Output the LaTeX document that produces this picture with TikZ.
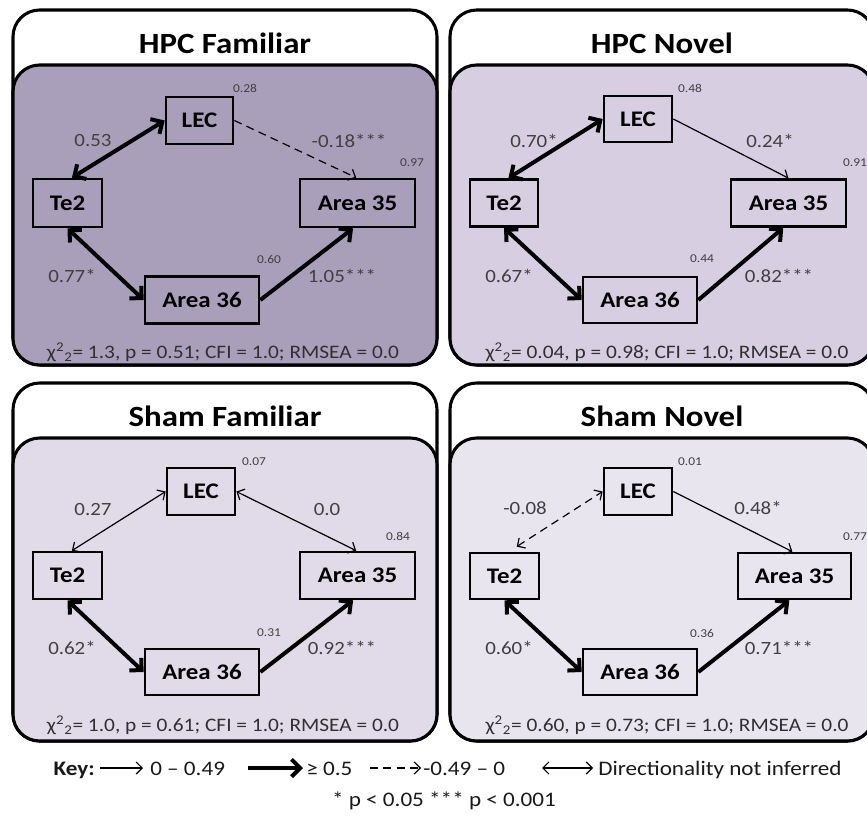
\documentclass[tikz,border=0pt]{standalone}
\usepackage{fontspec}
\setmainfont{Carlito}[FakeStretch=1.12]
\usetikzlibrary{arrows.meta}
\newdimen\upx \upx=0.75pt
\definecolor{famHPC}{RGB}{169,159,186}
\definecolor{novHPC}{RGB}{216,206,226}
\definecolor{famSham}{RGB}{225,219,233}
\definecolor{novSham}{RGB}{233,229,239}
\definecolor{numgray}{RGB}{64,64,64}
\definecolor{statgray}{RGB}{48,48,48}
\tikzset{
  panelline/.style={draw=black, line width=2.3pt, rounded corners=20pt},
  region/.style={draw=black, line width=2pt, inner sep=0pt, font=\fontsize{16.7}{18}\selectfont\bfseries},
  ttl/.style={font=\fontsize{22}{24}\selectfont\bfseries, inner sep=0pt},
  coef/.style={text=numgray, font=\fontsize{14}{16}\selectfont, inner sep=0pt},
  rsq/.style={text=numgray, font=\fontsize{9}{10}\selectfont, inner sep=0pt},
  fitline/.style={text=statgray, font=\fontsize{14.3}{16}\selectfont, inner sep=0pt},
  keytxt/.style={text=black!90, font=\fontsize{15.5}{17}\selectfont, inner sep=0pt},
  weak/.style={line width=0.9pt},
  strong/.style={line width=3pt},
  neg/.style={dash pattern=on 6pt off 4pt},
  wtip/.tip={Straight Barb[length=4.5pt,width=9pt]},
  stip/.tip={Straight Barb[length=6.5pt,width=13pt]},
}
\newcommand{\chisq}{χ\textsuperscript{2}\textsubscript{2}}
\begin{document}
\begin{tikzpicture}[x=0.75pt,y=-0.75pt]
\useasboundingbox (0,0) rectangle (867,816);
\clip (0,0) rectangle (867,816);

% ---------- panel frames ----------
\draw[panelline, fill=white] (13,10) rectangle (437,365);
\draw[panelline, fill=famHPC] (13,65) rectangle (437,365);
\draw[panelline, fill=white] (450,10) rectangle (874,365);
\draw[panelline, fill=novHPC] (450,65) rectangle (874,365);
\draw[panelline, fill=white] (13,383) rectangle (437,741);
\draw[panelline, fill=famSham] (13,438) rectangle (437,741);
\draw[panelline, fill=white] (450,383) rectangle (874,741);
\draw[panelline, fill=novSham] (450,438) rectangle (874,741);

% ---------- HPC Familiar ----------
\node[ttl] (tlT) at (225,43) {HPC Familiar};
\node[region, minimum width=67\upx, minimum height=47\upx] (tlLEC) at (199.5,120.5) {LEC};
\node[region, minimum width=69\upx, minimum height=48\upx] (tlTe2) at (67.5,203) {Te2};
\node[region, minimum width=115\upx, minimum height=48\upx] (tlA35) at (357.5,203) {Area 35};
\node[region, minimum width=114\upx, minimum height=47\upx] (tlA36) at (202,300) {Area 36};
\draw[strong, {stip}-{stip}] (tlTe2.80) -- (tlLEC.west);
\draw[weak, neg, -{wtip}] (tlLEC.east) -- (tlA35.93);
\draw[strong, {stip}-{stip}] (tlTe2.south) -- (tlA36.west);
\draw[strong, -{stip}] (tlA36.east) -- (tlA35.260);
\node[rsq] (tlr1) at (245,88) {0.28};
\node[coef] (tlc1) at (93,141) {0.53};
\node[coef] (tlc2) at (349,141) {-0.18***};
\node[rsq] (tlr2) at (412,163) {0.97};
\node[coef] (tlc3) at (72,276) {0.77*};
\node[rsq] (tlr3) at (269,259) {0.60};
\node[coef] (tlc4) at (342,276) {1.05***};
\node[fitline] (tlF) at (223,352) {\chisq= 1.3, p = 0.51; CFI = 1.0; RMSEA = 0.0};

% ---------- HPC Novel ----------
\node[ttl] (trT) at (662,43) {HPC Novel};
\node[region, minimum width=68\upx, minimum height=46\upx] (trLEC) at (638,119) {LEC};
\node[region, minimum width=68\upx, minimum height=47\upx] (trTe2) at (504,203) {Te2};
\node[region, minimum width=115\upx, minimum height=47\upx] (trA35) at (788.5,203) {Area 35};
\node[region, minimum width=114\upx, minimum height=46\upx] (trA36) at (640,300) {Area 36};
\draw[strong, {stip}-{stip}] (trTe2.80) -- (trLEC.west);
\draw[weak, -{wtip}] (trLEC.east) -- (trA35.north);
\draw[strong, {stip}-{stip}] (trTe2.south) -- (trA36.west);
\draw[strong, -{stip}] (trA36.east) -- (trA35.258);
\node[rsq] (trr1) at (690,88) {0.48};
\node[coef] (trc1) at (534,141) {0.70*};
\node[coef] (trc2) at (770,141) {0.24*};
\node[rsq] (trr2) at (855,163) {0.91};
\node[coef] (trc3) at (509,276) {0.67*};
\node[rsq] (trr3) at (702,259) {0.44};
\node[coef] (trc4) at (779,276) {0.82***};
\node[fitline] (trF) at (667,352) {\chisq= 0.04, p = 0.98; CFI = 1.0; RMSEA = 0.0};

% ---------- Sham Familiar ----------
\node[ttl] (blT) at (225,416) {Sham Familiar};
\node[region, minimum width=68\upx, minimum height=47\upx] (blLEC) at (201,491.5) {LEC};
\node[region, minimum width=69\upx, minimum height=47\upx] (blTe2) at (67.5,575.5) {Te2};
\node[region, minimum width=115\upx, minimum height=47\upx] (blA35) at (357.5,575.5) {Area 35};
\node[region, minimum width=114\upx, minimum height=46\upx] (blA36) at (202,672) {Area 36};
\draw[weak, {wtip}-{wtip}] (blTe2.80) -- (blLEC.west);
\draw[weak, {wtip}-{wtip}] (blLEC.east) -- (blA35.93);
\draw[strong, {stip}-{stip}] (blTe2.south) -- (blA36.west);
\draw[strong, -{stip}] (blA36.east) -- (blA35.260);
\node[rsq] (blr1) at (254,462) {0.07};
\node[coef] (blc1) at (93,510) {0.27};
\node[coef] (blc2) at (327,510) {0.0};
\node[rsq] (blr2) at (398,536) {0.84};
\node[coef] (blc3) at (72,648) {0.62*};
\node[rsq] (blr3) at (269,633) {0.31};
\node[coef] (blc4) at (342,648) {0.92***};
\node[fitline] (blF) at (223,725) {\chisq= 1.0, p = 0.61; CFI = 1.0; RMSEA = 0.0};

% ---------- Sham Novel ----------
\node[ttl] (brT) at (662,416) {Sham Novel};
\node[region, minimum width=68\upx, minimum height=47\upx] (brLEC) at (638,491.5) {LEC};
\node[region, minimum width=69\upx, minimum height=46\upx] (brTe2) at (504.5,576) {Te2};
\node[region, minimum width=113\upx, minimum height=46\upx] (brA35) at (794.5,576) {Area 35};
\node[region, minimum width=114\upx, minimum height=46\upx] (brA36) at (640,672) {Area 36};
\draw[weak, neg, {wtip}-{wtip}, shorten <=7pt] (brTe2.80) -- (brLEC.west);
\draw[weak, -{wtip}] (brLEC.east) -- (brA35.95);
\draw[strong, {stip}-{stip}] (brTe2.south) -- (brA36.west);
\draw[strong, -{stip}] (brA36.east) -- (brA35.258);
\node[rsq] (brr1) at (690,462) {0.01};
\node[coef] (brc1) at (525,508) {-0.08};
\node[coef] (brc2) at (758,508) {0.48*};
\node[rsq] (brr2) at (855,537) {0.77};
\node[coef] (brc3) at (509,648) {0.60*};
\node[rsq] (brr3) at (702,633) {0.36};
\node[coef] (brc4) at (779,648) {0.71***};
\node[fitline] (brF) at (667,725) {\chisq= 0.60, p = 0.73; CFI = 1.0; RMSEA = 0.0};

% ---------- key ----------
\node[keytxt, font=\fontsize{15.5}{17}\selectfont\bfseries, anchor=base east] (keyhd) at (95,775) {Key:};
\coordinate (kt1) at (100,768);
\coordinate (kt2) at (143,768);
\draw[weak, -{wtip}] (kt1) -- (kt2);
\node[keytxt, anchor=base west] (kv1) at (150,775) {0 – 0.49};
\coordinate (kk1) at (248,768);
\coordinate (kk2) at (303,768);
\draw[strong, -{stip}] (kk1) -- (kk2);
\node[keytxt, anchor=base west] (kv2) at (306,775) {≥ 0.5};
\coordinate (kd1) at (370,768);
\coordinate (kd2) at (421,768);
\draw[weak, neg, -{wtip}] (kd1) -- (kd2);
\node[keytxt, anchor=base west] (kv3) at (423,775) {-0.49 – 0};
\coordinate (kb1) at (542,768);
\coordinate (kb2) at (593,768);
\draw[weak, {wtip}-{wtip}] (kb1) -- (kb2);
\node[keytxt, anchor=base west] (kv4) at (598,775) {Directionality not inferred};
\node[keytxt, anchor=base] (sig) at (444,806) {* p < 0.05 *** p < 0.001};
\end{tikzpicture}
\end{document}
